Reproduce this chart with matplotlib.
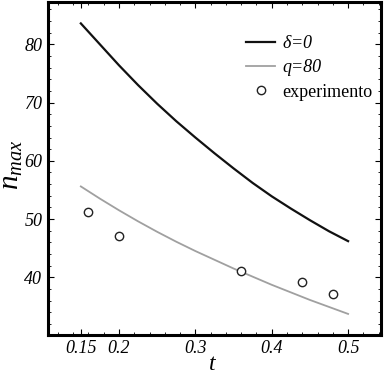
import numpy as np
import matplotlib
matplotlib.use('Agg')
import matplotlib.pyplot as plt
from matplotlib.ticker import FixedLocator, MultipleLocator

# curve delta=0
t_delta = [0.15, 0.175, 0.2, 0.225, 0.25, 0.275, 0.3, 0.325, 0.35,
           0.375, 0.4, 0.425, 0.45, 0.475, 0.5]
n_delta = [83.6, 80.0, 76.4, 73.0, 69.8, 66.8, 64.0, 61.3, 58.7,
           56.2, 53.9, 51.8, 49.8, 47.9, 46.2]

# curve q=80
t_q = [0.15, 0.175, 0.2, 0.225, 0.25, 0.275, 0.3, 0.325, 0.35,
       0.375, 0.4, 0.425, 0.45, 0.475, 0.5]
n_q = [55.6, 53.5, 51.5, 49.6, 47.8, 46.1, 44.5, 43.0, 41.5,
       40.1, 38.7, 37.4, 36.1, 34.9, 33.7]

# experiment points
t_exp = [0.159, 0.2, 0.36, 0.44, 0.48]
n_exp = [51.2, 47.1, 41.1, 39.1, 37.1]

xticks = [0.15, 0.2, 0.3, 0.4, 0.5]
xtick_labels = ['0.15', '0.2', '0.3', '0.4', '0.5']
yticks = [40, 50, 60, 70, 80]

plt.rcParams['font.family'] = 'Liberation Serif'
plt.rcParams['mathtext.fontset'] = 'custom'
plt.rcParams['mathtext.rm'] = 'Liberation Serif'
plt.rcParams['mathtext.it'] = 'Liberation Serif:italic'

fig = plt.figure(figsize=(3.84, 3.75), dpi=100)
ax = fig.add_axes([0.125, 0.107, 0.867, 0.888])

ax.plot(t_delta, n_delta, color='#111111', lw=1.6, label=r'$\delta$=0')
ax.plot(t_q, n_q, color='#a0a0a0', lw=1.3, label='q=80')
ax.plot(t_exp, n_exp, linestyle='none', marker='o', ms=6, mfc='white',
        mec='#222222', mew=1.0, label='experimento')

ax.set_xlim(0.107, 0.543)
ax.set_ylim(30.1, 87.3)

ax.xaxis.set_major_locator(FixedLocator(xticks))
ax.set_xticklabels(xtick_labels, fontstyle='italic', fontsize=13)
ax.xaxis.set_minor_locator(MultipleLocator(0.02))
ax.yaxis.set_major_locator(FixedLocator(yticks))
ax.set_yticklabels([str(v) for v in yticks], fontstyle='italic', fontsize=13)
ax.yaxis.set_minor_locator(MultipleLocator(2))

ax.tick_params(which='both', direction='in', top=True, right=True)
ax.tick_params(which='major', length=4, width=0.8, pad=4)
ax.tick_params(which='minor', length=2, width=0.6)

for sp in ax.spines.values():
    sp.set_linewidth(2.2)

ax.set_xlabel(r'$t$', fontsize=17)
ax.xaxis.set_label_coords(0.495, -0.058)
ax.set_ylabel(r'$n_{max}$', fontsize=21)
ax.yaxis.set_label_coords(-0.068, 0.51)

leg = ax.legend(loc='upper right', frameon=False, fontsize=13,
                handlelength=1.6, handletextpad=0.4, borderaxespad=0,
                borderpad=0, labelspacing=0.4,
                bbox_to_anchor=(0.975, 0.90))
texts = leg.get_texts()
texts[0].set_fontstyle('italic')
texts[1].set_fontstyle('italic')

fig.savefig('out.png', dpi=100)
